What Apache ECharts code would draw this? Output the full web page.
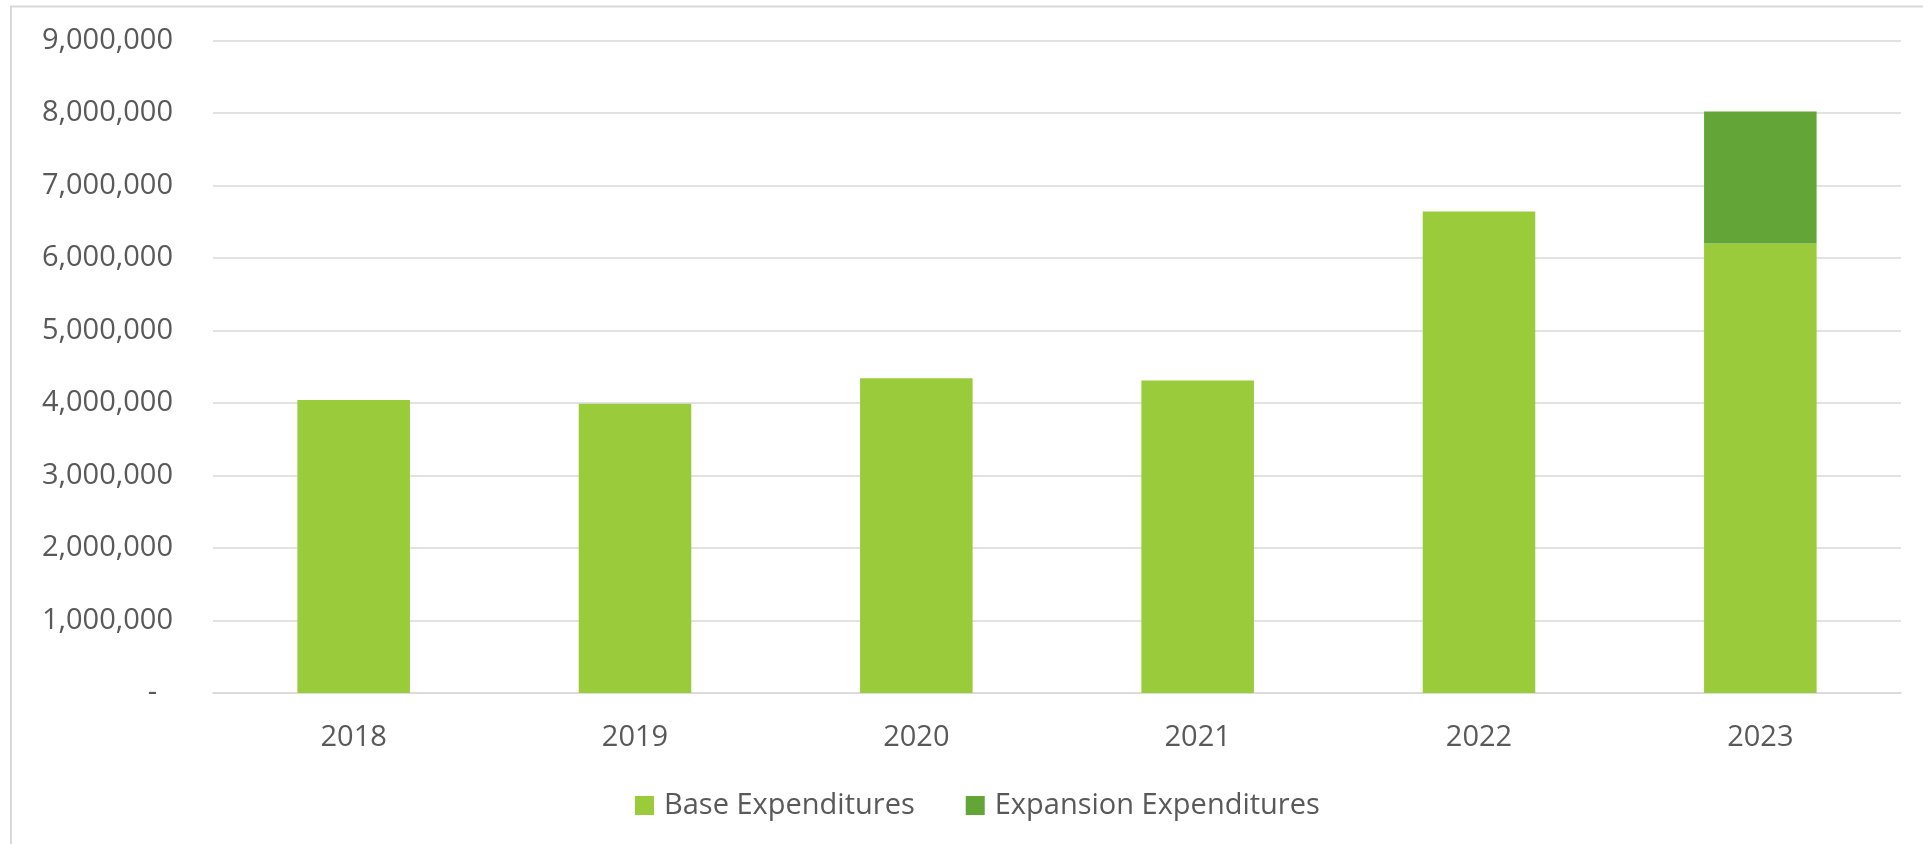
<!DOCTYPE html>
<html>
<head>
<meta charset="utf-8">
<script src="https://cdn.jsdelivr.net/npm/echarts@6/dist/echarts.min.js"></script>
<style>
  html, body { margin: 0; padding: 0; background: #ffffff; }
  #chart { width: 1923px; height: 844px; }
</style>
</head>
<body>
<div id="chart"></div>
<script>
// Annual expenditures, split into base and expansion spending
const years = ['2018', '2019', '2020', '2021', '2022', '2023'];
const baseExpenditures = [4040000, 3990000, 4340000, 4310000, 6640000, 6200000];
const expansionExpenditures = [0, 0, 0, 0, 0, 1820000];
const yTicks = { min: 0, max: 9000000, interval: 1000000 };

const FONT = '"Open Sans", "Liberation Sans", sans-serif';
const FONT_SIZE = 29;
const TEXT = '#595959';
const GRID = '#D9D9D9';

const chart = echarts.init(document.getElementById('chart'), null, { renderer: 'canvas' });

chart.setOption({
  backgroundColor: '#ffffff',
  animation: false,
  textStyle: { fontFamily: FONT, color: TEXT },
  graphic: [{
    type: 'rect',
    silent: true,
    shape: { x: 11, y: 6.5, width: 2000, height: 900 },
    style: { fill: 'none', stroke: GRID, lineWidth: 2 }
  }],
  grid: { left: 213, right: 22, top: 40.5, bottom: 151, containLabel: false },
  legend: {
    left: 630,
    top: 786,
    itemWidth: 19,
    itemHeight: 19,
    itemGap: 51,
    icon: 'rect',
    textStyle: { fontFamily: FONT, fontSize: FONT_SIZE, color: TEXT, padding: [0, 0, 0, 5] },
    data: ['Base Expenditures', 'Expansion Expenditures']
  },
  xAxis: {
    type: 'category',
    data: years,
    axisLine: { show: true, lineStyle: { color: GRID, width: 1.5 } },
    axisTick: { show: false },
    axisLabel: { fontFamily: FONT, fontSize: FONT_SIZE, color: TEXT, margin: 30 }
  },
  yAxis: {
    type: 'value',
    min: yTicks.min,
    max: yTicks.max,
    interval: yTicks.interval,
    axisLine: { show: false },
    axisTick: { show: false },
    splitLine: { lineStyle: { color: GRID, width: 1.5 } },
    axisLabel: {
      fontFamily: FONT,
      fontSize: FONT_SIZE,
      color: TEXT,
      margin: 40,
      formatter: function (v) {
        return v === 0 ? '{z|-}' : v.toLocaleString('en-US');
      },
      rich: { z: { fontFamily: FONT, fontSize: FONT_SIZE, color: TEXT, padding: [0, 16, 0, 0] } }
    }
  },
  series: [
    {
      name: 'Base Expenditures',
      type: 'bar',
      stack: 'total',
      barWidth: '40%',
      itemStyle: { color: '#9ACB3A' },
      data: baseExpenditures
    },
    {
      name: 'Expansion Expenditures',
      type: 'bar',
      stack: 'total',
      barWidth: '40%',
      itemStyle: { color: '#63A537' },
      data: expansionExpenditures
    }
  ]
});
</script>
</body>
</html>
